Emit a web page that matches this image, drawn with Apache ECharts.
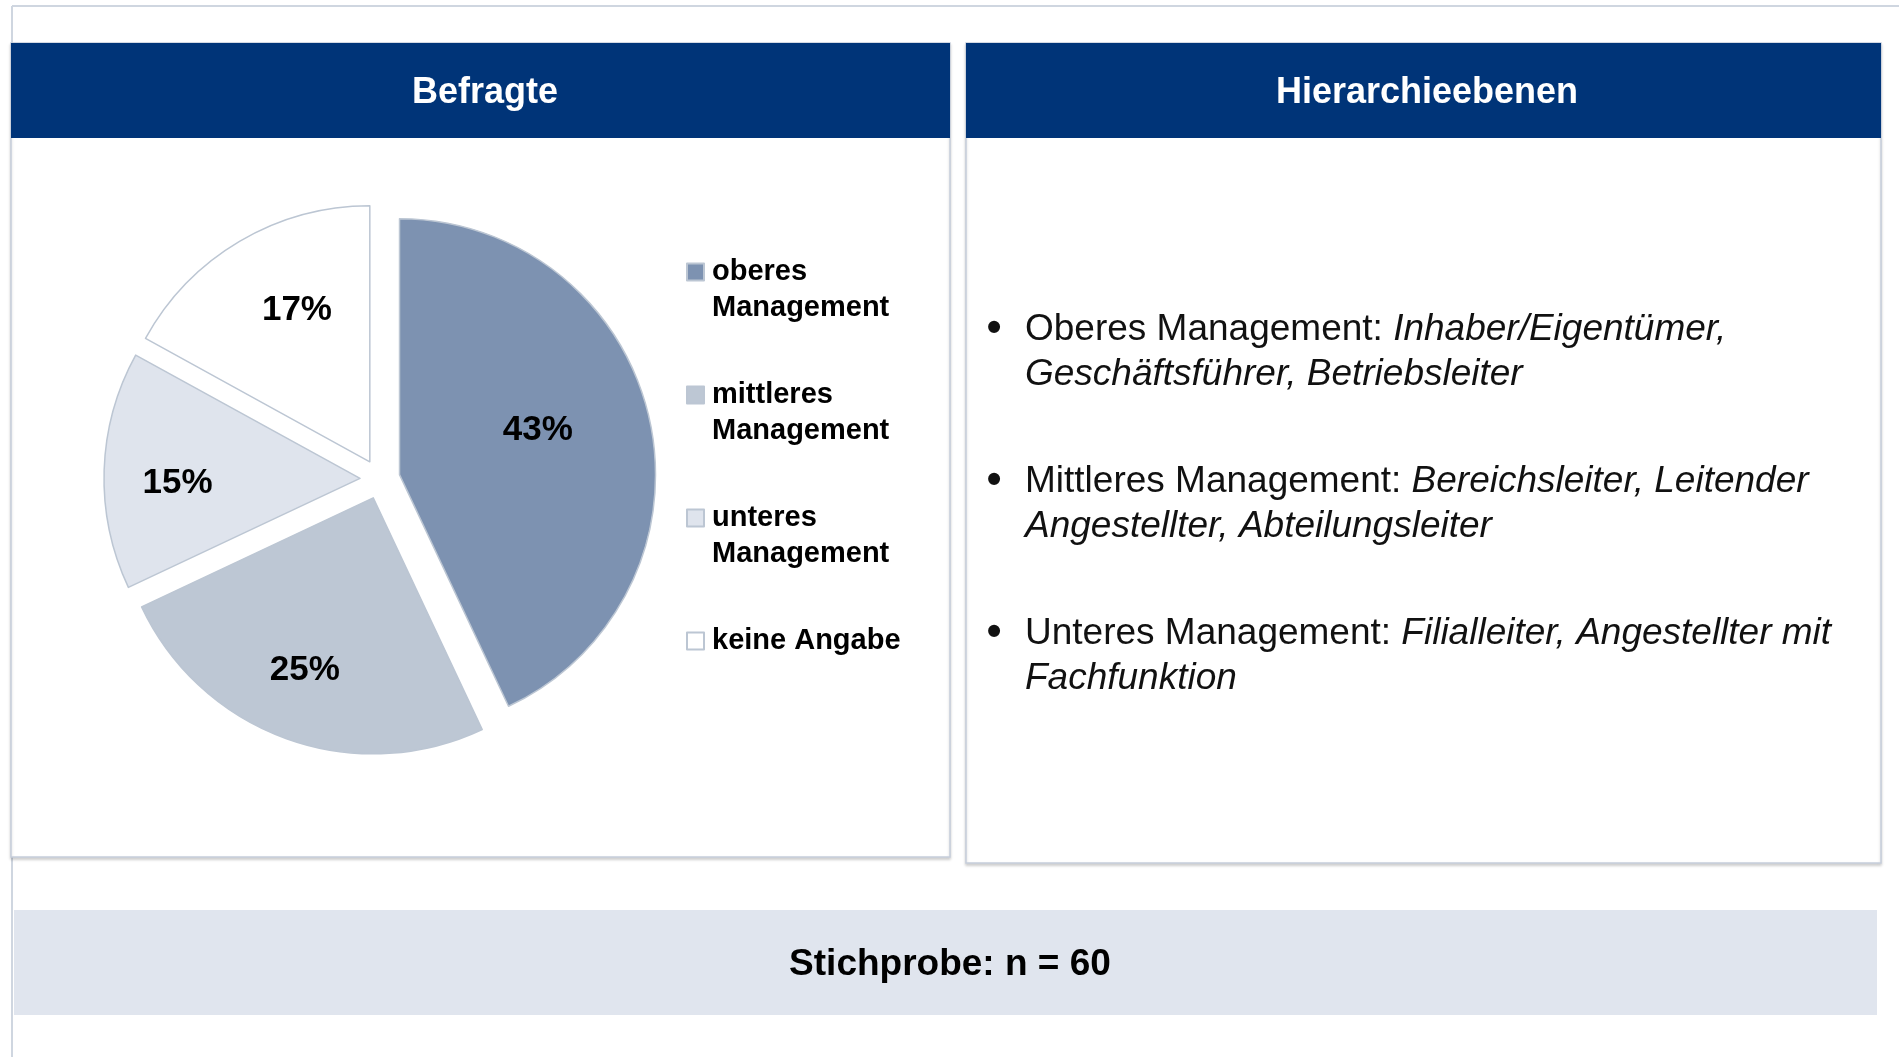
<!DOCTYPE html>
<html>
<head>
<meta charset="utf-8">
<script src="https://cdn.jsdelivr.net/npm/echarts@6/dist/echarts.min.js"></script>
<style>
  html, body { margin: 0; padding: 0; background: #fff; }
  #chart { width: 1899px; height: 1057px; }
</style>
</head>
<body>
<div id="chart"></div>
<script>
// Daten
const categories = ['oberes Management', 'mittleres Management', 'unteres Management', 'keine Angabe'];
const shares = [43, 25, 15, 17];
const panelTitles = ['Befragte', 'Hierarchieebenen'];
const bulletLabels = ['Oberes Management: ', 'Mittleres Management: ', 'Unteres Management: '];
const bulletLine1 = ['Inhaber/Eigentümer,', 'Bereichsleiter, Leitender', 'Filialleiter, Angestellter mit'];
const bulletLine2 = ['Geschäftsführer, Betriebsleiter', 'Angestellter, Abteilungsleiter', 'Fachfunktion'];
const sampleText = 'Stichprobe: n = 60';

const sliceColors = ['#7d92b1', '#bdc7d4', '#dfe4ed', '#ffffff'];
// Labelposition: Anteil vom Radius und Drehung (Grad) gegenueber der Segmentmitte
const labelRatio = [0.571, 0.714, 0.713, 0.666];
const labelTurn = [-6.2, 2.2, -2.3, 5.3];
const FONT = '"Liberation Sans", Arial, sans-serif';
const R = 256;
const CX = 380, CY = 479, OFFSET = 20;

const chart = echarts.init(document.getElementById('chart'));

const total = shares.reduce((a, b) => a + b, 0);
function midAngle(i) {
  let before = 0;
  for (let k = 0; k < i; k++) before += shares[k];
  return (before + shares[i] / 2) / total * Math.PI * 2;
}

const graphics = [
  // Rahmenlinien
  { type: 'line', z: 0, shape: { x1: 12, y1: 6, x2: 1899, y2: 6 }, style: { stroke: '#cfd6e0', lineWidth: 2 } },
  { type: 'line', z: 0, shape: { x1: 12, y1: 6, x2: 12, y2: 1057 }, style: { stroke: '#cfd6e0', lineWidth: 2 } },
  // Panels
  { type: 'rect', z: 0, shape: { x: 11, y: 43, width: 939, height: 814 },
    style: { fill: '#fff', stroke: '#c6cedb', lineWidth: 1.5, shadowBlur: 3, shadowOffsetY: 2, shadowColor: 'rgba(0,0,0,0.18)' } },
  { type: 'rect', z: 0, shape: { x: 966, y: 43, width: 915, height: 820 },
    style: { fill: '#fff', stroke: '#c6cedb', lineWidth: 1.5, shadowBlur: 3, shadowOffsetY: 2, shadowColor: 'rgba(0,0,0,0.18)' } },
  { type: 'rect', z: 1, shape: { x: 11, y: 43, width: 939, height: 95 }, style: { fill: '#003478' } },
  { type: 'rect', z: 1, shape: { x: 966, y: 43, width: 915, height: 95 }, style: { fill: '#003478' } },
  { type: 'text', z: 2, x: 485, y: 93, style: { text: panelTitles[0], fill: '#fff', font: 'bold 36px ' + FONT, align: 'center', verticalAlign: 'middle' } },
  { type: 'text', z: 2, x: 1427, y: 93, style: { text: panelTitles[1], fill: '#fff', font: 'bold 36px ' + FONT, align: 'center', verticalAlign: 'middle' } },
  // Stichprobe
  { type: 'rect', z: 0, shape: { x: 14, y: 910, width: 1863, height: 105 }, style: { fill: '#e0e5ee' } },
  { type: 'text', z: 2, x: 950, y: 965, style: { text: sampleText, fill: '#000', font: 'bold 37px ' + FONT, align: 'center', verticalAlign: 'middle' } }
];

const bulletTops = [307, 459, 611];
bulletLabels.forEach(function (lab, i) {
  graphics.push({ type: 'text', z: 2, x: 994, y: bulletTops[i] + 22,
    style: { text: '•', fill: '#111', font: 'bold 42px ' + FONT, align: 'center', verticalAlign: 'middle' } });
  graphics.push({ type: 'text', z: 2, x: 1025, y: bulletTops[i],
    style: {
      text: '{n|' + lab + '}{i|' + bulletLine1[i] + '}\n{i|' + bulletLine2[i] + '}',
      verticalAlign: 'top', align: 'left', fill: '#111',
      rich: {
        n: { fontSize: 37, fontFamily: FONT, lineHeight: 45, fill: '#111' },
        i: { fontSize: 37, fontFamily: FONT, fontStyle: 'italic', lineHeight: 45, fill: '#111' }
      }
    } });
});

chart.setOption({
  animation: false,
  graphic: graphics,
  legend: {
    orient: 'vertical',
    left: 686,
    top: 218,
    padding: 0,
    itemWidth: 17,
    itemHeight: 17,
    itemGap: 15,
    selectedMode: false,
    icon: 'rect',
    // erste Zeile auf Hoehe des Symbols: Text immer dreizeilig, Mitte = erste Textzeile
    formatter: function (name) {
      return name.indexOf(' Management') > 0
        ? '\n' + name.replace(' Management', '\nManagement')
        : '\n' + name + '\n';
    },
    textStyle: { fontSize: 29, fontWeight: 'bold', color: '#000', fontFamily: FONT, lineHeight: 36, padding: [0, 0, 0, 3] },
    data: categories
  },
  series: [{
    type: 'pie',
    center: [CX, CY],
    radius: R,
    startAngle: 90,
    clockwise: true,
    selectedMode: 'multiple',
    selectedOffset: OFFSET,
    avoidLabelOverlap: false,
    itemStyle: { borderColor: '#bcc6d3', borderWidth: 1.5 },
    select: { itemStyle: { borderColor: '#bcc6d3', borderWidth: 1.5 } },
    emphasis: { disabled: true },
    label: {
      position: 'inside',
      formatter: '{c}%',
      fontSize: 35,
      fontWeight: 'bold',
      color: '#000',
      fontFamily: FONT
    },
    labelLine: { show: false },
    // labelRect liegt vor der Auswahl-Verschiebung, die kommt danach noch dazu
    labelLayout: function (p) {
      const i = p.dataIndex;
      const b = midAngle(i) + labelTurn[i] * Math.PI / 180;
      const r = labelRatio[i] * R;
      const tx = CX + Math.sin(b) * r;
      const ty = CY - Math.cos(b) * r + 3;
      const rect = p.labelRect;
      return {
        dx: tx - (rect.x + rect.width / 2),
        dy: ty - (rect.y + rect.height / 2)
      };
    },
    data: categories.map(function (c, i) {
      return { name: c, value: shares[i], selected: true, itemStyle: { color: sliceColors[i] } };
    })
  }]
});
</script>
</body>
</html>
